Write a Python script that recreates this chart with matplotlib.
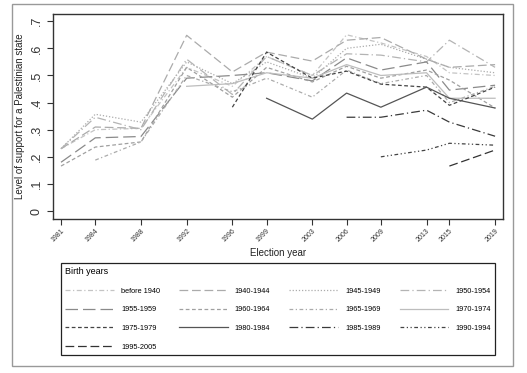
import numpy as np
import matplotlib.pyplot as plt
from matplotlib.patches import Rectangle

plt.rcParams['font.family'] = ['Liberation Sans', 'DejaVu Sans']

years = [1981, 1984, 1988, 1992, 1996, 1999, 2003, 2006, 2009, 2013, 2015, 2019]
na = np.nan

cohorts = ['before 1940', '1940-1944', '1945-1949', '1950-1954',
           '1955-1959', '1960-1964', '1965-1969', '1970-1974',
           '1975-1979', '1980-1984', '1985-1989', '1990-1994', '1995-2005']

before_1940 = [.23, .30, .305, .53, .46, .57, .50, .65, .62, .57, .51, .50]
c1940_1944 = [.23, .31, .305, .648, .513, .586, .553, .63, .64, .56, .53, .54]
c1945_1949 = [.23, .357, .328, .55, .47, .55, .49, .60, .615, .56, .53, .51]
c1950_1954 = [.23, .346, .30, .56, .43, .57, .50, .58, .575, .55, .63, .53]
c1955_1959 = [.18, .27, .275, .49, .50, .51, .48, .565, .52, .55, .446, .464]
c1960_1964 = [.166, .236, .255, .53, .42, .53, .476, .534, .49, .52, .483, .38]
c1965_1969 = [na, .188, .255, .50, .44, .49, .42, .52, .47, .50, .40, .46]
c1970_1974 = [na, na, na, .46, .47, .51, .49, .54, .50, .51, .416, .416]
c1975_1979 = [na, na, na, na, .383, .586, .49, .516, .468, .457, .39, .457]
c1980_1984 = [na, na, na, na, na, .416, .339, .435, .383, .457, .416, .38]
c1985_1989 = [na, na, na, na, na, na, na, .346, .346, .372, .328, .276]
c1990_1994 = [na, na, na, na, na, na, na, na, .20, .225, .25, .243]
c1995_2005 = [na, na, na, na, na, na, na, na, na, na, .166, .225]

series = [before_1940, c1940_1944, c1945_1949, c1950_1954, c1955_1959,
          c1960_1964, c1965_1969, c1970_1974, c1975_1979, c1980_1984,
          c1985_1989, c1990_1994, c1995_2005]

styles = [
    ('#c4c4c4', (0, (4, 2, 1, 2))),
    ('#ababab', (0, (7, 3))),
    ('#acacac', (0, (1, 1.5))),
    ('#b4b4b4', (0, (7, 2.5, 1, 2.5))),
    ('#8a8a8a', (0, (10, 4))),
    ('#a0a0a0', (0, (3, 2))),
    ('#ababab', (0, (3, 2, 1, 2))),
    ('#bdbdbd', '-'),
    ('#444444', (0, (3, 2))),
    ('#555555', '-'),
    ('#3a3a3a', (0, (7, 2.5, 1, 2.5))),
    ('#444444', (0, (3, 2, 1, 2, 1, 2))),
    ('#333333', (0, (7, 3))),
]

fig = plt.figure(figsize=(5.27, 3.73), dpi=100)
ax = fig.add_axes([0.1006, 0.413, 0.854, 0.549])

handles = []
for name, vals, (col, ls) in zip(cohorts, series, styles):
    h, = ax.plot(years, vals, color=col, linestyle=ls, linewidth=0.9, label=name)
    handles.append(h)

ax.set_xlim(1980.3, 2019.7)
ax.set_ylim(-0.029, 0.726)
ax.set_xticks(years)
ax.set_xticklabels([str(y) for y in years], rotation=45, ha='right',
                   rotation_mode='anchor', fontsize=5, color='#333333')
ax.set_yticks(np.arange(0, 0.71, 0.1))
ax.set_yticklabels(['0', '.1', '.2', '.3', '.4', '.5', '.6', '.7'],
                   rotation=90, va='center', fontsize=9, color='#333333')
ax.tick_params(axis='both', direction='out', length=4, width=0.8, color='#333333')
ax.tick_params(axis='x', pad=2)
for s in ax.spines.values():
    s.set_color('#333333')
    s.set_linewidth(1.0)

ax.set_xlabel('Election year', fontsize=7, color='#222222', labelpad=3)
ax.set_ylabel('Level of support for a Palestinian state', fontsize=7,
              color='#222222', labelpad=4)

# legend is filled column by column, so reorder to get row-wise order
order = [0, 4, 8, 12, 1, 5, 9, 2, 6, 10, 3, 7, 11]
leg = fig.legend([handles[i] for i in order], [cohorts[i] for i in order],
                 loc='upper left', bbox_to_anchor=(0.108, 0.295, 0.839, 0.01),
                 mode='expand', ncol=4, fontsize=5.3, title='Birth years',
                 title_fontsize=6.5, alignment='left', handlelength=6.6,
                 handletextpad=1.0, labelspacing=1.55, borderpad=0.6,
                 fancybox=False, edgecolor='#222222', framealpha=1)
leg.get_frame().set_linewidth(0.9)

fig.patches.append(Rectangle((0.0228, 0.0188), 0.951, 0.9705,
                             transform=fig.transFigure, fill=False,
                             edgecolor='#999999', linewidth=1.0))

fig.savefig('out.png', dpi=100)
